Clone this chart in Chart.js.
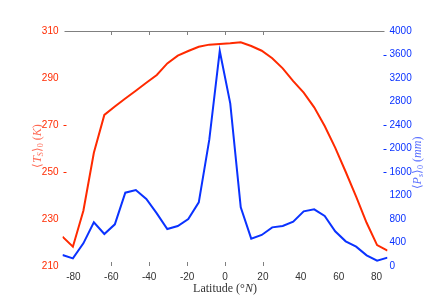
<!DOCTYPE html>
<html>
<head>
<meta charset="utf-8">
<script src="https://cdn.jsdelivr.net/npm/chart.js@4/dist/chart.umd.min.js"></script>
<style>
  html, body { margin: 0; padding: 0; background: #fff; }
  #wrap { width: 436px; height: 308px; }
</style>
</head>
<body>
<div id="wrap"><canvas id="c" width="436" height="308"></canvas></div>
<script>
// gaussian latitudes (deg N)
const lat = [-85.76, -80.27, -74.74, -69.21, -63.68, -58.14, -52.61, -47.07, -41.53, -36.00, -30.46, -24.92, -19.38, -13.84, -8.31, -2.77,
             2.77, 8.31, 13.84, 19.38, 24.92, 30.46, 36.00, 41.53, 47.07, 52.61, 58.14, 63.68, 69.21, 74.74, 80.27, 85.76];
// zonal mean surface temperature (K)
const tempK = [222.5, 218.2, 233.5, 258.2, 274.3, 277.9, 281.3, 284.6, 288.0, 291.3, 296.2, 299.5, 301.5, 303.3, 304.2, 304.5,
               304.8, 305.2, 303.6, 301.6, 298.4, 294.1, 288.7, 283.8, 277.5, 269.6, 260.4, 250.1, 239.5, 228.4, 218.9, 216.5];
// zonal mean precipitation (mm)
const precipMm = [187, 130, 386, 743, 545, 709, 1248, 1294, 1140, 896, 630, 681, 800, 1084, 2145, 3660,
                  2769, 999, 465, 528, 658, 681, 755, 930, 965, 851, 590, 420, 329, 182, 91, 142];

const xTicks = [-80, -60, -40, -20, 0, 20, 40, 60, 80];
// where the small inward tick marks show up
const xTickMarks = [-60, -40, -20, 0, 20];
const leftTickMarks = [270, 250];
const rightTickMarks = [3600, 2400, 2000, 1600];

const RED = '#ff2a00';
const BLUE = '#0a32ff';

const extras = {
  id: 'extras',
  afterDraw(chart) {
    const ctx = chart.ctx;
    const a = chart.chartArea;
    const sx = chart.scales.x, sl = chart.scales.yT, sr = chart.scales.yP;
    ctx.save();
    // top box line
    ctx.strokeStyle = '#808080';
    ctx.lineWidth = 1;
    ctx.beginPath();
    ctx.moveTo(a.left + 2, Math.round(a.top) + 0.5);
    ctx.lineTo(a.right - 3, Math.round(a.top) + 0.5);
    ctx.stroke();
    // inward ticks
    xTickMarks.forEach(v => {
      const px = Math.round(sx.getPixelForValue(v)) + 0.5;
      ctx.beginPath();
      ctx.moveTo(px, a.top); ctx.lineTo(px, a.top + 4);
      ctx.moveTo(px, a.bottom); ctx.lineTo(px, a.bottom - 4);
      ctx.stroke();
    });
    ctx.strokeStyle = RED;
    leftTickMarks.forEach(v => {
      const py = Math.round(sl.getPixelForValue(v)) + 0.5;
      ctx.beginPath(); ctx.moveTo(a.left + 1, py); ctx.lineTo(a.left + 4, py); ctx.stroke();
    });
    ctx.strokeStyle = BLUE;
    rightTickMarks.forEach(v => {
      const py = Math.round(sr.getPixelForValue(v)) + 0.5;
      ctx.beginPath(); ctx.moveTo(a.right - 4, py); ctx.lineTo(a.right - 1, py); ctx.stroke();
    });

    // axis titles (LaTeX-like)
    function mathTitle(x, y, col, base, sub, unit) {
      ctx.save();
      ctx.translate(x, y);
      ctx.rotate(-Math.PI / 2);
      ctx.fillStyle = col;
      ctx.textBaseline = 'middle';
      const f = '12px "Liberation Serif", serif';
      const fi = 'italic 12px "Liberation Serif", serif';
      const fs = 'italic 8px "Liberation Serif", serif';
      const fs0 = '8px "Liberation Serif", serif';
      const parts = [
        [f, '\u27E8', 0], [fi, base, 0], [fs, sub, 3], [f, '\u27E9', 0], [fs0, '0', 3],
        [f, ' (', 0], [fi, unit, 0], [f, ')', 0]
      ];
      let w = 0;
      parts.forEach(p => { ctx.font = p[0]; w += ctx.measureText(p[1]).width; });
      let cx = -w / 2;
      parts.forEach(p => {
        ctx.font = p[0];
        ctx.fillText(p[1], cx, p[2]);
        cx += ctx.measureText(p[1]).width;
      });
      ctx.restore();
    }
    mathTitle(38, 146, '#ff6a55', 'T', 'S', 'K');
    mathTitle(418, 163, '#5a70ff', 'P', 's', 'mm');

    // x title
    ctx.fillStyle = '#333';
    ctx.textBaseline = 'middle';
    const t1 = 'Latitude (\u00B0', t2 = 'N', t3 = ')';
    ctx.font = '12px "Liberation Serif", serif';
    const w1 = ctx.measureText(t1).width, w3 = ctx.measureText(t3).width;
    ctx.font = 'italic 12px "Liberation Serif", serif';
    const w2 = ctx.measureText(t2).width;
    let x0 = 225 - (w1 + w2 + w3) / 2;
    ctx.font = '12px "Liberation Serif", serif';
    ctx.fillText(t1, x0, 289);
    ctx.font = 'italic 12px "Liberation Serif", serif';
    ctx.fillText(t2, x0 + w1, 289);
    ctx.font = '12px "Liberation Serif", serif';
    ctx.fillText(t3, x0 + w1 + w2, 289);
    ctx.restore();
  }
};

const tickFont = { family: '"Liberation Sans", Arial, sans-serif', size: 10 };

new Chart(document.getElementById('c'), {
  type: 'line',
  data: {
    datasets: [
      {
        label: 'Ts',
        data: lat.map((v, i) => ({ x: v, y: tempK[i] })),
        yAxisID: 'yT',
        borderColor: RED,
        borderWidth: 2,
        pointRadius: 0,
        tension: 0
      },
      {
        label: 'Ps',
        data: lat.map((v, i) => ({ x: v, y: precipMm[i] })),
        yAxisID: 'yP',
        borderColor: BLUE,
        borderWidth: 2,
        pointRadius: 0,
        tension: 0
      }
    ]
  },
  options: {
    responsive: false,
    animation: false,
    layout: { padding: { top: 31, left: 0, right: 0, bottom: 0 } },
    plugins: { legend: { display: false }, tooltip: { enabled: false } },
    scales: {
      x: {
        type: 'linear',
        min: -85.76,
        max: 85.76,
        afterBuildTicks: s => { s.ticks = xTicks.map(v => ({ value: v })); },
        afterFit: s => { s.height = 42; },
        grid: { display: false, drawTicks: false },
        border: { display: false },
        ticks: { color: '#333', font: tickFont, padding: 5, maxRotation: 0, callback: v => String(v) }
      },
      yT: {
        position: 'left',
        min: 210,
        max: 310,
        afterFit: s => { s.width = 62.5; },
        grid: { display: false, drawTicks: false },
        border: { display: false },
        ticks: { stepSize: 20, color: RED, font: tickFont, padding: 4, callback: v => String(v) }
      },
      yP: {
        position: 'right',
        min: 0,
        max: 4000,
        afterFit: s => { s.width = 48.5; },
        grid: { display: false, drawTicks: false },
        border: { display: false },
        ticks: { stepSize: 400, color: BLUE, font: tickFont, padding: 2, callback: v => String(v) }
      }
    }
  },
  plugins: [extras]
});
</script>
</body>
</html>
